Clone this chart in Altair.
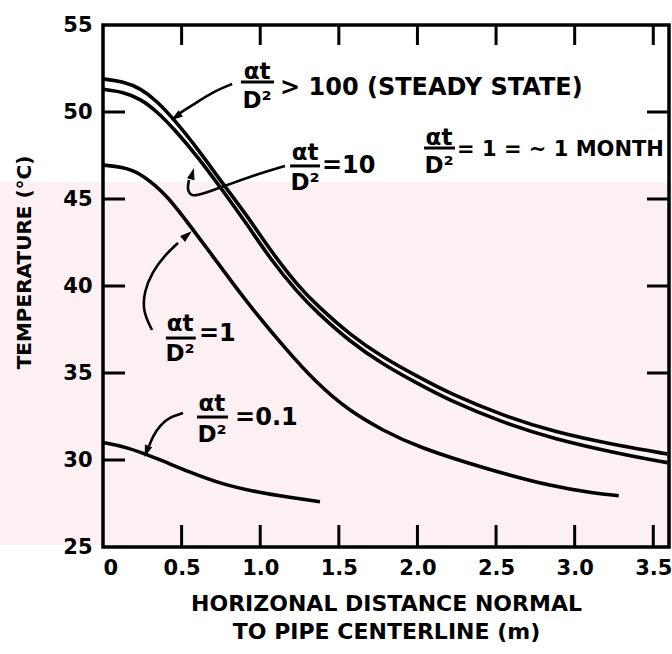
import altair as alt
import pandas as pd

# ---- curve data ----
x_steady = [0, 0.13, 0.24, 0.34, 0.45, 0.61, 0.76, 0.92, 1.06, 1.24, 1.36, 1.57, 1.78, 2.00, 2.21, 2.53, 2.87, 3.29, 3.59]
t_steady = [51.9, 51.75, 51.35, 50.65, 49.6, 47.8, 45.9, 44.0, 42.1, 40.0, 38.9, 37.2, 35.9, 34.8, 33.8, 32.6, 31.6, 30.8, 30.35]
x_10 = [0, 0.13, 0.24, 0.34, 0.45, 0.61, 0.76, 0.92, 1.06, 1.24, 1.36, 1.57, 1.78, 2.00, 2.21, 2.53, 2.87, 3.29, 3.59]
t_10 = [51.3, 51.15, 50.75, 50.05, 49.05, 47.35, 45.5, 43.5, 41.6, 39.6, 38.5, 36.8, 35.5, 34.4, 33.4, 32.2, 31.2, 30.35, 29.85]
x_1 = [0, 0.12, 0.24, 0.41, 0.55, 0.70, 0.83, 0.94, 1.15, 1.36, 1.57, 1.78, 2.00, 2.45, 2.87, 3.12, 3.28]
t_1 = [46.95, 46.85, 46.5, 45.2, 43.5, 41.7, 40.1, 38.8, 36.5, 34.4, 32.8, 31.7, 30.75, 29.45, 28.45, 28.1, 27.95]
x_01 = [0, 0.15, 0.34, 0.55, 0.76, 0.98, 1.19, 1.38]
t_01 = [31.0, 30.75, 30.1, 29.3, 28.6, 28.15, 27.85, 27.6]

# ---- axis ticks ----
x_ticks = [0, 0.5, 1.0, 1.5, 2.0, 2.5, 3.0, 3.5]
y_ticks = [25, 30, 35, 40, 45, 50, 55]
x_inner_ticks = [0.5, 1.0, 1.5, 2.0, 2.5, 3.0, 3.5]
y_left_ticks = [30, 35, 40, 45, 50]
y_right_ticks = [35, 40, 45, 50]

# ---- annotation labels (fractions at/D^2) ----
num_x = [0.98, 1.285, 2.137, 0.49, 0.693]
num_y = [52.30, 47.64, 48.51, 37.82, 33.22]
den_y = [50.63, 45.92, 46.90, 36.09, 31.44]
bar_x1 = [0.877, 1.19, 2.042, 0.40, 0.598]
bar_x2 = [1.088, 1.38, 2.239, 0.59, 0.795]
bar_y = [51.72, 46.90, 47.93, 37.01, 32.47]
rhs_text = ["> 100 (STEADY STATE)", "=10", "=1", "=0.1"]
rhs_x = [1.126, 1.393, 0.61, 0.84]
rhs_y = [51.38, 46.90, 37.24, 32.41]
month_text = ["= 1 = ~ 1 MONTH"]
month_x = [2.252]
month_y = [47.82]

# ---- arrows ----
arrow_a_x = [0.821, 0.712, 0.598, 0.490]
arrow_a_y = [51.61, 51.21, 50.57, 49.94]
arrow_b_x = [1.158, 0.986, 0.808, 0.649, 0.566, 0.534, 0.547]
arrow_b_y = [46.90, 46.44, 45.86, 45.34, 45.11, 45.52, 46.09]
arrow_c_x = [0.312, 0.254, 0.261, 0.312, 0.394, 0.477]
arrow_c_y = [37.47, 38.51, 39.66, 40.80, 41.78, 42.47]
arrow_d_x = [0.509, 0.426, 0.363, 0.318, 0.293]
arrow_d_y = [32.70, 32.47, 32.01, 31.38, 30.80]
head_x = [0.471, 0.566, 0.528, 0.280]
head_y = [49.77, 46.38, 42.87, 30.57]
head_angle = [235, 15, 50, 200]

W, H = 566, 522
FONT = "DejaVu Sans"

curves = pd.concat([
    pd.DataFrame({"x": x_steady, "t": t_steady, "s": "steady"}),
    pd.DataFrame({"x": x_10, "t": t_10, "s": "10"}),
    pd.DataFrame({"x": x_1, "t": t_1, "s": "1"}),
    pd.DataFrame({"x": x_01, "t": t_01, "s": "0.1"}),
])

arrows = []
for name, xs, ys in [("a", arrow_a_x, arrow_a_y), ("b", arrow_b_x, arrow_b_y),
                     ("c", arrow_c_x, arrow_c_y), ("d", arrow_d_x, arrow_d_y)]:
    arrows.append(pd.DataFrame({"x": xs, "t": ys, "s": name, "i": list(range(len(xs)))}))
arrows = pd.concat(arrows)

heads = pd.DataFrame({"x": head_x, "t": head_y, "ang": head_angle})
fracs = pd.DataFrame({"x": num_x, "ny": num_y, "dy": den_y, "bx1": bar_x1, "bx2": bar_x2, "by": bar_y})
rhs = pd.DataFrame({"x": rhs_x, "t": rhs_y, "txt": rhs_text})
month = pd.DataFrame({"x": month_x, "t": month_y, "txt": month_text})

xscale = alt.Scale(domain=[0, 3.6], nice=False, zero=False)
yscale = alt.Scale(domain=[25, 55], nice=False, zero=False)

one = pd.DataFrame({"a": [0]})

band = alt.Chart(one).mark_rect(color="#fdf0f3").encode(
    x=alt.value(-103), x2=alt.value(W + 3), y=alt.value(157), y2=alt.value(H - 2)
)

base_axes = alt.Chart(curves).mark_line(opacity=0).encode(
    x=alt.X("x:Q", scale=xscale, axis=alt.Axis(
        values=x_ticks,
        labelExpr="datum.value == 0 ? '0' : format(datum.value, '.1f')",
        title=["HORIZONAL DISTANCE NORMAL", "TO PIPE CENTERLINE (m)"],
        titleX=W / 2, titleY=46, titleBaseline="top", titleLineHeight=28,
        titleFontSize=22, labelPadding=10, zindex=2,
    )),
    y=alt.Y("t:Q", scale=yscale, axis=alt.Axis(
        values=y_ticks, title="TEMPERATURE (°C)",
        titleX=-79, titleY=237, titleAngle=270, titleAlign="center", titleBaseline="middle",
        titleFontSize=20, labelPadding=11, zindex=2,
    )),
)

lines = alt.Chart(curves).mark_line(color="black", strokeWidth=3.6, interpolate="basis").encode(
    x=alt.X("x:Q", scale=xscale), y=alt.Y("t:Q", scale=yscale), detail="s:N"
)

arrow_lines = alt.Chart(arrows).mark_line(color="black", strokeWidth=2.6, interpolate="basis").encode(
    x=alt.X("x:Q", scale=xscale), y=alt.Y("t:Q", scale=yscale), detail="s:N", order="i:Q"
)

arrow_heads = alt.Chart(heads).mark_point(
    shape="M0,-1L0.55,0.7L-0.55,0.7Z", filled=True, fill="black", stroke="black",
    strokeWidth=1, size=130, opacity=1,
).encode(
    x=alt.X("x:Q", scale=xscale), y=alt.Y("t:Q", scale=yscale), angle=alt.Angle("ang:Q", scale=None)
)

num_text = alt.Chart(fracs).mark_text(text="αt", font=FONT, fontWeight="bold", fontSize=23,
                                      align="center", baseline="middle", color="black").encode(
    x=alt.X("x:Q", scale=xscale), y=alt.Y("ny:Q", scale=yscale)
)
den_text = alt.Chart(fracs).mark_text(text="D²", font=FONT, fontWeight="bold", fontSize=23,
                                      align="center", baseline="middle", color="black").encode(
    x=alt.X("x:Q", scale=xscale), y=alt.Y("dy:Q", scale=yscale)
)
bars = alt.Chart(fracs).mark_rule(color="black", strokeWidth=3).encode(
    x=alt.X("bx1:Q", scale=xscale), x2="bx2:Q", y=alt.Y("by:Q", scale=yscale)
)
rhs_layer = alt.Chart(rhs).mark_text(font=FONT, fontWeight="bold", fontSize=24, align="left",
                                     baseline="middle", color="black").encode(
    x=alt.X("x:Q", scale=xscale), y=alt.Y("t:Q", scale=yscale), text="txt:N"
)
month_layer = alt.Chart(month).mark_text(font=FONT, fontWeight="bold", fontSize=21, align="left",
                                         baseline="middle", color="black").encode(
    x=alt.X("x:Q", scale=xscale), y=alt.Y("t:Q", scale=yscale), text="txt:N"
)

xt = pd.DataFrame({"v": x_inner_ticks})
ticks_bottom = alt.Chart(xt).mark_rule(color="black", strokeWidth=3).encode(
    x=alt.X("v:Q", scale=xscale), y=alt.value(H), y2=alt.value(H - 22)
)
ticks_top = alt.Chart(xt).mark_rule(color="black", strokeWidth=3).encode(
    x=alt.X("v:Q", scale=xscale), y=alt.value(0), y2=alt.value(20)
)
ticks_left = alt.Chart(pd.DataFrame({"v": y_left_ticks})).mark_rule(color="black", strokeWidth=3).encode(
    y=alt.Y("v:Q", scale=yscale), x=alt.value(0), x2=alt.value(22)
)
ticks_right = alt.Chart(pd.DataFrame({"v": y_right_ticks})).mark_rule(color="black", strokeWidth=3).encode(
    y=alt.Y("v:Q", scale=yscale), x=alt.value(W), x2=alt.value(W - 22)
)

frame = alt.Chart(one).mark_rect(filled=False, stroke="black", strokeWidth=3.5).encode(
    x=alt.value(0), x2=alt.value(W), y=alt.value(0), y2=alt.value(H)
)

chart = alt.layer(
    band, base_axes, lines, arrow_lines, arrow_heads, bars, num_text, den_text, rhs_layer, month_layer,
    ticks_bottom, ticks_top, ticks_left, ticks_right, frame
).properties(
    width=W, height=H,
    padding={"left": 103, "top": 25, "right": 3, "bottom": 107},
    autosize=alt.AutoSizeParams(type="none"),
    background="white",
).configure_view(stroke=None).configure_axis(
    domain=False, ticks=False, grid=False,
    labelFont=FONT, labelFontWeight="bold", labelFontSize=21, labelColor="black",
    titleFont=FONT, titleFontWeight="bold", titleColor="black",
)

chart.save("out.html", embed_options={"renderer": "svg", "actions": False})
